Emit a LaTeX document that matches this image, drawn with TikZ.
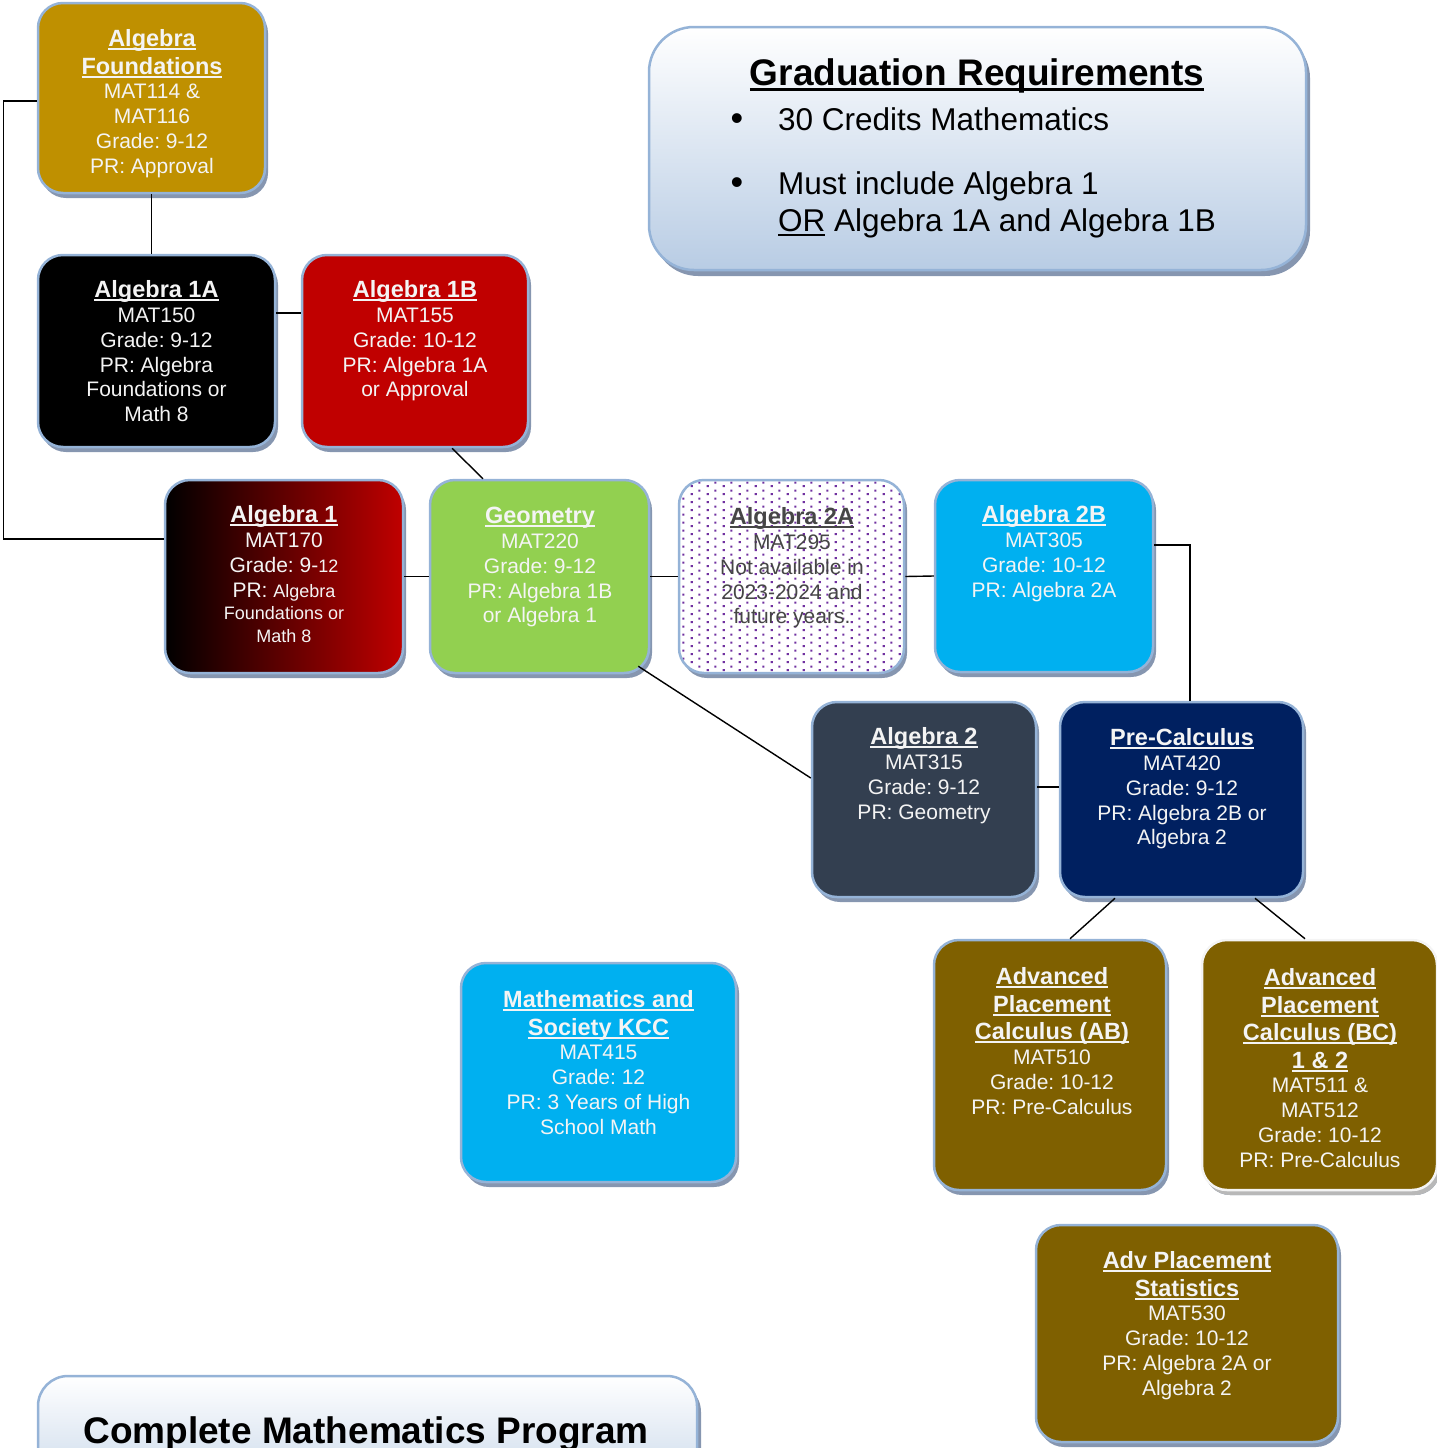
\documentclass[tikz,border=0pt]{standalone}
\usepackage{fontspec}
\setmainfont{Liberation Sans}
\usetikzlibrary{shadows,patterns.meta,calc}

\definecolor{bord}{RGB}{149,179,215}
\definecolor{shade}{RGB}{134,150,176}
\definecolor{gold}{RGB}{191,144,0}
\definecolor{crimson}{RGB}{192,0,0}
\definecolor{lime}{RGB}{146,208,80}
\definecolor{sky}{RGB}{0,176,240}
\definecolor{slate}{RGB}{51,63,80}
\definecolor{navy}{RGB}{0,32,96}
\definecolor{olive}{RGB}{127,96,0}
\definecolor{paleblue}{RGB}{184,204,228}
\definecolor{dotpurple}{RGB}{112,48,160}
\definecolor{txtgrey}{RGB}{70,70,70}
\definecolor{offwhite}{RGB}{244,244,244}

% staggered square dots: two per 16x8 tile
\pgfdeclarepattern{
  name=stagdots,
  type=uncolored,
  bottom left={\pgfpoint{0pt}{0pt}},
  top right={\pgfpoint{16pt}{8pt}},
  tile size={\pgfpoint{16pt}{8pt}},
  code={
    \pgfpathrectangle{\pgfpoint{2.9pt}{0.9pt}}{\pgfpoint{2.2pt}{2.2pt}}
    \pgfpathrectangle{\pgfpoint{10.9pt}{4.9pt}}{\pgfpoint{2.2pt}{2.2pt}}
    \pgfusepath{fill}
  }
}

% underlined text with a rule that follows the text colour
\newsavebox\ulbox
\newcommand\ulin[2][1.8pt]{\sbox\ulbox{#2}\mbox{\rlap{\usebox\ulbox}\rule[-3.6pt]{\wd\ulbox}{#1}}}
\newcommand\ulinbig[1]{\sbox\ulbox{#1}\mbox{\rlap{\usebox\ulbox}\rule[-6pt]{\wd\ulbox}{2.8pt}}}
\newcommand\titlefont{\fontsize{23.5}{27.5}\selectfont\bfseries}
\newcommand\bodyfont{\fontsize{21}{24.8}\selectfont}
\newcommand\smallfont{\fontsize{18}{22.5}\selectfont}
\newcommand\firstline{\rule{0pt}{20pt}}

\tikzset{
  course/.style={draw=bord, line width=2.5pt, rounded corners=25pt, inner sep=0pt,
    drop shadow={shadow xshift=3pt, shadow yshift=-5pt, fill=shade, opacity=1}},
  ctext/.style={anchor=north, inner sep=0pt, text=offwhite, align=flush center, text width=#1,
    execute at begin node={\parindent=0pt\frenchspacing}},
  link/.style={draw=black, line width=1.4pt},
}

\begin{document}
\begin{tikzpicture}[x=1pt,y=-1pt]
\useasboundingbox (0,0) rectangle (1437,1448);

% ---- graduation requirements panel
\node[draw=bord, line width=2.5pt, rounded corners=45pt, top color=white, bottom color=paleblue,
      minimum width=657pt, minimum height=243pt,
      drop shadow={shadow xshift=4pt, shadow yshift=-6pt, fill=shade, opacity=1}]
      (grad) at (977.5,148.5) {};
\node[anchor=base, inner sep=0pt, font=\fontsize{37}{40}\selectfont\bfseries] (gradtitle) at (977,85.2)
      {\ulinbig{Graduation Requirements}};
\begin{scope}[every node/.style={inner sep=0pt, font=\fontsize{31.5}{36}\selectfont}]
  \node[anchor=base] (b1) at (737,130.3) {\fontsize{36}{36}\selectfont\textbullet};
  \node[anchor=base west] (g1) at (778,130.3) {30 Credits Mathematics};
  \node[anchor=base] (b2) at (737,194.3) {\fontsize{36}{36}\selectfont\textbullet};
  \node[anchor=base west] (g2) at (778,194.3) {Must include Algebra 1};
  \node[anchor=base west] (g3) at (778,231.3) {\sbox\ulbox{OR}\mbox{\rlap{\usebox\ulbox}\rule[-5pt]{\wd\ulbox}{2.5pt}} Algebra 1A and Algebra 1B};
\end{scope}

% ---- program title panel (runs off the bottom edge)
\node[draw=bord, line width=2.5pt, rounded corners=30pt, top color=white, bottom color=paleblue,
      minimum width=659pt, minimum height=150pt,
      drop shadow={shadow xshift=4pt, shadow yshift=-6pt, fill=shade, opacity=1}]
      (prog) at (367.5,1451) {};
\node[anchor=base, inner sep=0pt, font=\fontsize{37}{40}\selectfont\bfseries] (progtitle) at (366,1443)
      {Complete Mathematics Program};

% ---- course boxes
\node[course, fill=gold, minimum width=227pt, minimum height=190pt] (found) at (151.5,98) {};
\node[ctext=227pt] (found-t) at (152,26.4)
  {{\titlefont\firstline\ulin{Algebra}\\\ulin{Foundations}\par}
   {\bodyfont MAT114 \&\\MAT116\\Grade: 9-12\\PR: Approval\par}};

\node[course, fill=black, minimum width=237pt, minimum height=192pt] (a1a) at (156.5,351) {};
\node[ctext=237pt] (a1a-t) at (156.5,277.4)
  {{\titlefont\firstline\ulin{Algebra 1A}\par}
   {\bodyfont MAT150\\Grade: 9-12\\PR: Algebra\\Foundations or\\Math 8\par}};

\node[course, fill=crimson, minimum width=226pt, minimum height=192pt] (a1b) at (415,351) {};
\node[ctext=226pt] (a1b-t) at (415,277.4)
  {{\titlefont\firstline\ulin{Algebra 1B}\par}
   {\bodyfont MAT155\\Grade: 10-12\\PR: Algebra 1A\\or Approval\par}};

\node[course, left color=black, right color=crimson, minimum width=238pt, minimum height=193pt] (a1) at (284,576.5) {};
\node[ctext=238pt] (a1-t) at (284,502.4)
  {{\titlefont\firstline\ulin{Algebra 1}\par}
   {\bodyfont MAT170\\Grade: 9-{\smallfont 12}\\PR: {\smallfont Algebra}\par}
   {\smallfont Foundations or\\Math 8\par}};

\node[course, fill=lime, minimum width=219pt, minimum height=193pt] (geo) at (539.5,576.5) {};
\node[ctext=219pt] (geo-t) at (540,503.4)
  {{\titlefont\firstline\ulin{Geometry}\par}
   {\bodyfont MAT220\\Grade: 9-12\\PR: Algebra 1B\\or Algebra 1\par}};

\node[course, preaction={fill=white}, pattern=stagdots, pattern color=dotpurple,
      minimum width=225pt, minimum height=193pt] (a2a) at (791.5,576.5) {};
\node[ctext=225pt, text=txtgrey] (a2a-t) at (792,504.4)
  {{\titlefont\firstline\ulin{Algebra 2A}\par}
   {\bodyfont MAT295\\Not available in\\2023-2024 and\\future years.\par}};

\node[course, fill=sky, minimum width=218pt, minimum height=192pt] (a2b) at (1044,576) {};
\node[ctext=218pt] (a2b-t) at (1044,502.4)
  {{\titlefont\firstline\ulin{Algebra 2B}\par}
   {\bodyfont MAT305\\Grade: 10-12\\PR: Algebra 2A\par}};

\node[course, fill=slate, minimum width=224pt, minimum height=195pt] (a2) at (924,799.5) {};
\node[ctext=224pt] (a2-t) at (924,724.4)
  {{\titlefont\firstline\ulin{Algebra 2}\par}
   {\bodyfont MAT315\\Grade: 9-12\\PR: Geometry\par}};

\node[course, fill=navy, minimum width=243pt, minimum height=195pt] (pc) at (1181.5,799.5) {};
\node[ctext=243pt] (pc-t) at (1182,725.4)
  {{\titlefont\firstline\ulin{Pre-Calculus}\par}
   {\bodyfont MAT420\\Grade: 9-12\\PR: Algebra 2B or\\Algebra 2\par}};

\node[course, fill=olive, minimum width=232pt, minimum height=250pt] (ab) at (1050,1065) {};
\node[ctext=232pt] (ab-t) at (1052,964.4)
  {{\titlefont\firstline\ulin{Advanced}\\\ulin{Placement}\\\ulin{Calculus (AB)}\par}
   {\bodyfont MAT510\\Grade: 10-12\\PR: Pre-Calculus\par}};

\node[course, draw=offwhite, fill=olive, minimum width=235pt, minimum height=250pt,
      drop shadow={shadow xshift=3pt, shadow yshift=-5pt, fill=black!28, opacity=1}] (bc) at (1319.5,1065) {};
\node[ctext=235pt] (bc-t) at (1320,965.4)
  {{\titlefont\firstline\ulin{Advanced}\\\ulin{Placement}\\\ulin{Calculus (BC)}\\\ulin{1 \& 2}\par}
   {\bodyfont MAT511 \&\\MAT512\\Grade: 10-12\\PR: Pre-Calculus\par}};

\node[course, fill=sky, minimum width=275pt, minimum height=219pt] (mas) at (598.5,1072.5) {};
\node[ctext=275pt] (mas-t) at (598.5,987.4)
  {{\titlefont\firstline\ulin{Mathematics and}\\\ulin{Society KCC}\par}
   {\bodyfont MAT415\\Grade: 12\\PR: 3 Years of High\\School Math\par}};

\node[course, fill=olive, minimum width=302pt, minimum height=217pt] (aps) at (1187,1333.5) {};
\node[ctext=302pt] (aps-t) at (1187,1248.4)
  {{\titlefont\firstline\ulin{Adv Placement}\\\ulin{Statistics}\par}
   {\bodyfont MAT530\\Grade: 10-12\\PR: Algebra 2A or\\Algebra 2\par}};

% ---- prerequisite links
\draw[link] (found.south) -- (found.south |- a1a.north);
\draw[link] ([yshift=-3pt]found.west) -- ++(-33,0) |- ([yshift=37.5pt]a1.west);
\draw[link] ([yshift=38pt]a1a.east) -- ([yshift=38pt]a1b.west);
\draw[link] ([xshift=37pt]a1b.south) -- ([xshift=-56.5pt]geo.north);
\draw[link] (a1.east) -- (geo.west);
\draw[link] (geo.east) -- (a2a.west);
\draw[link] (a2a.east) -- (a2b.west);
\draw[link] ([yshift=31pt]a2b.east) -| ([xshift=8.5pt]pc.north);
\draw[link] ([xshift=-12pt,yshift=8pt]geo.south east) -- ([yshift=21.5pt]a2.west);
\draw[link] ([yshift=12.5pt]a2.east) -- ([yshift=12.5pt]pc.west);
\draw[link] ([xshift=-66.5pt]pc.south) -- ([xshift=20pt]ab.north);
\draw[link] ([xshift=73.5pt]pc.south) -- ([xshift=-14.5pt]bc.north);
\end{tikzpicture}
\end{document}
